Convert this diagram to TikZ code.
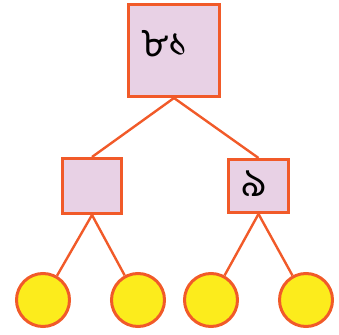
\documentclass[tikz,border=0pt]{standalone}
\usepackage{fontspec}
\newfontfamily\bnfont[Script=Bengali]{Hind Siliguri}
\definecolor{edgeor}{HTML}{F15A29}
\definecolor{boxfill}{HTML}{E8D1E5}
\definecolor{ballfill}{HTML}{FCEC1C}
\tikzset{
  sq/.style={draw=edgeor, fill=boxfill, line width=3pt, inner sep=0pt},
  ball/.style={circle, draw=edgeor, fill=ballfill, line width=3pt, inner sep=0pt, minimum size=53pt},
  conn/.style={draw=edgeor, line width=2.4pt},
  num/.style={font=\bnfont\fontsize{40}{42}\selectfont, inner sep=0pt}
}
\begin{document}
\begin{tikzpicture}[x=1pt,y=1pt]
\useasboundingbox (0,0) rectangle (339,334);
\node[sq, minimum width=91pt, minimum height=92pt] (top) at (174,283.5) {};
\node[sq, minimum width=59pt, minimum height=55pt] (left) at (92,148) {};
\node[sq, minimum width=60pt, minimum height=53pt] (right) at (258.5,148) {};
\node[ball] (c1) at (43,34) {};
\node[ball] (c2) at (138,34) {};
\node[ball] (c3) at (211,34) {};
\node[ball] (c4) at (306,34) {};
\draw[conn] (top.south) -- (left.north);
\draw[conn] (top.south) -- (right.north);
\draw[conn] (left.south) -- (c1);
\draw[conn] (left.south) -- (c2);
\draw[conn] (right.south) -- (c3);
\draw[conn] (right.south) -- (c4);
\node[num] (t1) at (165,290) {৮১};
\node[num] (t2) at (254,150) {৯};
\end{tikzpicture}
\end{document}
